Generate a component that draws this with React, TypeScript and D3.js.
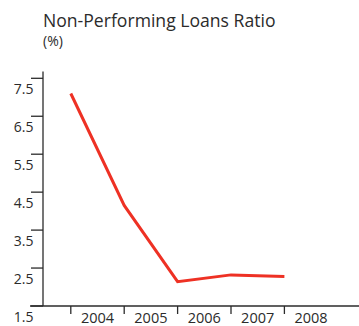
import React from "react";
import { scaleBand, scaleLinear, line } from "d3";

// data
const years = ["2004", "2005", "2006", "2007", "2008"];
const nplRatio = [7.1, 4.15, 2.14, 2.32, 2.28];
const yTicks = [1.5, 2.5, 3.5, 4.5, 5.5, 6.5, 7.5];

const W = 359;
const H = 326;
const FONT = "'Open Sans', sans-serif";
const INK = "#2b2b2b";

const App = () => {
  const axisX = 43;
  const axisY = 306;

  const xScale = scaleBand<string>().domain(years).range([70.8, 337.8]);
  const yScale = scaleLinear().domain([1.5, 7.5]).range([axisY, 78.3]);

  const pathGen = line<number>()
    .x((_, i) => xScale(years[i]) as number)
    .y((d) => yScale(d));

  return (
    <svg
      width={W}
      height={H}
      style={{ position: "absolute", left: 0, top: 0, background: "#fff" }}
      fontFamily={FONT}
    >
      {/* title */}
      <text x={43} y={27} fontSize={17.6} fill={INK}>
        Non-Performing Loans Ratio
      </text>
      <text x={43} y={46} fontSize={14} fill={INK}>
        (%)
      </text>

      {/* y axis */}
      <line x1={axisX} x2={axisX} y1={71.5} y2={axisY} stroke={INK} strokeWidth={1.3} />
      {yTicks.map((t) => (
        <g key={t}>
          <line x1={31} x2={axisX} y1={yScale(t)} y2={yScale(t)} stroke={INK} strokeWidth={1.3} />
          <text x={33.5} y={yScale(t) + 15.5} textAnchor="end" fontSize={14} fill={INK}>
            {t.toFixed(1)}
          </text>
        </g>
      ))}

      {/* x axis */}
      <line x1={30} x2={W} y1={axisY} y2={axisY} stroke={INK} strokeWidth={1.3} />
      {years.map((y) => (
        <g key={y}>
          <line
            x1={xScale(y)}
            x2={xScale(y)}
            y1={axisY}
            y2={axisY + 8}
            stroke={INK}
            strokeWidth={1.3}
          />
          <text
            x={(xScale(y) as number) + xScale.bandwidth() / 2}
            y={axisY + 16.5}
            textAnchor="middle"
            fontSize={14.5}
            fill={INK}
          >
            {y}
          </text>
        </g>
      ))}

      {/* series */}
      <path
        d={pathGen(nplRatio) || ""}
        fill="none"
        stroke="#ee3124"
        strokeWidth={3}
        strokeLinejoin="miter"
      />
    </svg>
  );
};

export default App;
